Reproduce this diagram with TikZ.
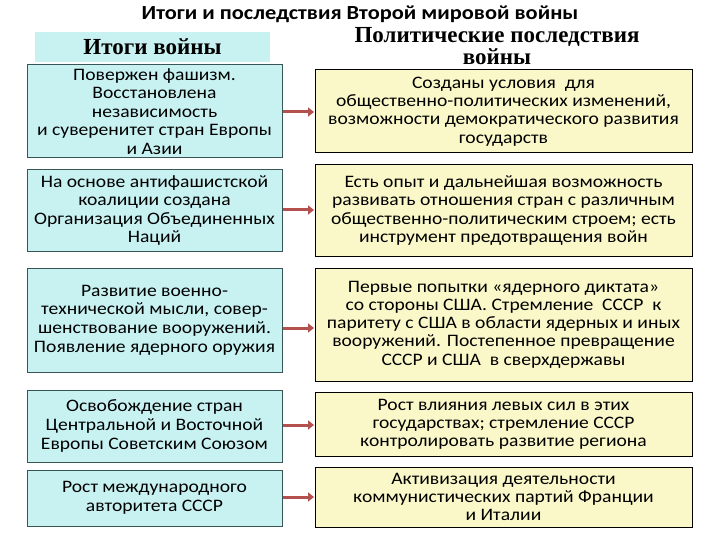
\documentclass[tikz,border=0pt]{standalone}
\usepackage{fontspec}
\setmainfont{Carlito}[FakeStretch=1.12]
\newfontfamily\headfont{Liberation Serif}
\usepackage{xcolor}
\usepackage{tikz}
\usetikzlibrary{arrows.meta}

\definecolor{itogfill}{HTML}{C8F2F2}
\definecolor{itogline}{HTML}{3A5555}
\definecolor{poslfill}{HTML}{FAF8C8}
\definecolor{strelka}{HTML}{B4514F}

\begin{document}
\begin{tikzpicture}[x=1pt, y=-1pt,
  itog/.style={draw=itogline, line width=1pt, fill=itogfill, align=center, inner sep=0pt,
    minimum width=255pt, font=\fontsize{17.5}{18.6}\selectfont},
  posl/.style={draw=black, line width=1pt, fill=poslfill, align=center, inner sep=0pt,
    minimum width=377pt, font=\fontsize{17.5}{18.2}\selectfont},
  strel/.style={draw=strelka, line width=3pt, -{Triangle[length=6pt,width=9pt]}, shorten <=0.5pt, shorten >=0.5pt}]
\useasboundingbox (0,0) rectangle (720,540);
\fill[white] (0,0) rectangle (720,540);
\node (Title) at (360,14) {\fontsize{20}{22}\selectfont\bfseries Итоги и последствия Второй мировой войны};
\node[fill=itogfill, minimum width=235pt, minimum height=30pt, inner sep=0pt] (HeadL) at (152.5,47) {\headfont\bfseries\fontsize{23}{24}\selectfont Итоги войны};
\node[align=center, font=\headfont\bfseries\fontsize{23}{22}\selectfont] (HeadR) at (497,46) {Политические последствия\\ войны};
% itogi
\node[itog, minimum height=93pt] (L1) at (154.5,111.5) {Повержен фашизм.\\ Восстановлена\\ независимость\\ и суверенитет стран Европы\\ и Азии};
\node[itog, minimum height=81pt] (L2) at (154.5,210.5) {На основе антифашистской\\ коалиции создана\\ Организация Объединенных\\ Наций};
\node[itog, minimum height=104pt] (L3) at (154.5,320) {Развитие военно-\\ технической мысли, совер-\\ шенствование вооружений.\\ Появление ядерного оружия};
\node[itog, minimum height=72pt] (L4) at (154.5,426) {Освобождение стран\\ Центральной и Восточной\\ Европы Советским Союзом};
\node[itog, minimum height=56pt] (L5) at (154.5,498) {Рост международного\\ авторитета СССР};
% posledstviya
\node[posl, minimum height=83pt] (R1) at (503.5,111.5) {Созданы условия \ для\\ общественно-политических изменений,\\ возможности демократического развития\\ государств};
\node[posl, minimum height=91pt] (R2) at (503.5,210.5) {Есть опыт и дальнейшая возможность\\ развивать отношения стран с различным\\ общественно-политическим строем; есть\\ инструмент предотвращения войн};
\node[posl, minimum height=113pt] (R3) at (503.5,324.5) {Первые попытки «ядерного диктата»\\ со стороны США. Стремление \ СССР \ к\\ паритету с США в области ядерных и иных\\ вооружений. Постепенное превращение\\ СССР и США \ в сверхдержавы};
\node[posl, minimum height=64pt] (R4) at (503.5,424) {Рост влияния левых сил в этих\\ государствах; стремление СССР\\ контролировать развитие региона};
\node[posl, minimum height=60pt] (R5) at (503.5,497) {Активизация деятельности\\ коммунистических партий Франции\\ и Италии};
% strelki
\draw[strel] (L1.east |- 0,112) -- (R1.west |- 0,112);
\draw[strel] (L2.east |- 0,210) -- (R2.west |- 0,210);
\draw[strel] (L3.east |- 0,328) -- (R3.west |- 0,328);
\draw[strel] (L4.east |- 0,425) -- (R4.west |- 0,425);
\draw[strel] (L5.east |- 0,497) -- (R5.west |- 0,497);
\end{tikzpicture}
\end{document}
